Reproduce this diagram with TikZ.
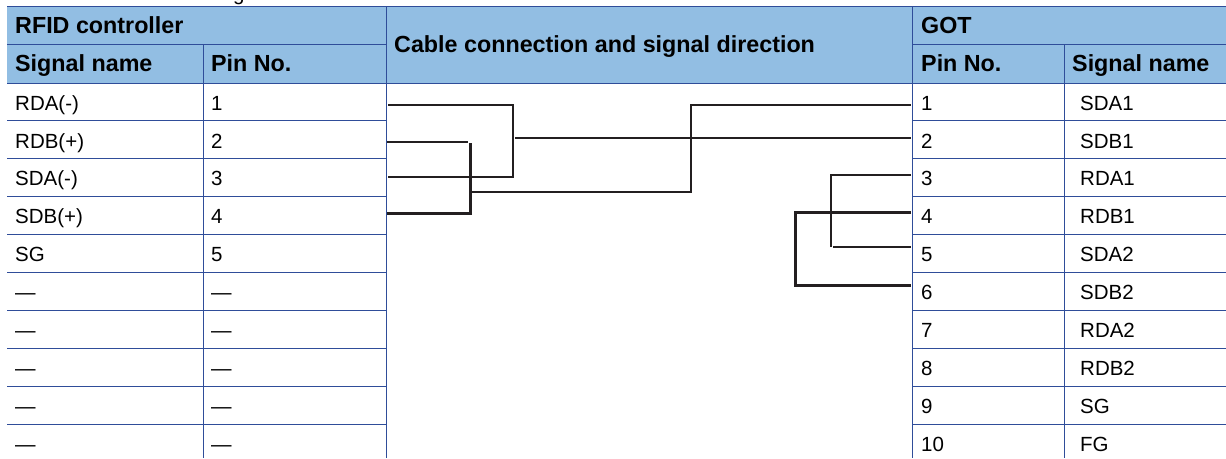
\documentclass[tikz,border=0pt]{standalone}
\usepackage{fontspec}
\setmainfont{Liberation Sans}
\definecolor{rule}{HTML}{2F4D99}
\definecolor{head}{HTML}{92BEE3}
\definecolor{wire}{HTML}{231F20}
\tikzset{
  x=1pt,y=-1pt,
  cell/.style={anchor=base west,inner sep=0pt,font=\fontsize{20.5}{20.5}\selectfont,text=black},
  hcell/.style={anchor=base west,inner sep=0pt,font=\fontsize{23.3}{23.3}\selectfont\bfseries,text=black},
  grid/.style={draw=rule,line width=1.1pt},
  thin wire/.style={draw=wire,line width=1.8pt},
  thick wire/.style={draw=wire,line width=2.6pt}
}
\begin{document}
\begin{tikzpicture}
\useasboundingbox (0,0) rectangle (1226,458);
\fill[head] (7,6.5) rectangle (1226,83.5);
% grid
\draw[grid] (7,6.5) -- (1226,6.5);
\draw[grid] (7,83.5) -- (1226,83.5);
\foreach \yy in {44.5,120.8,158.3,196.3,234.3,272.3,310.3,348.3,386.3,424.3}{
  \draw[grid] (7,\yy) -- (386.5,\yy);
  \draw[grid] (912.5,\yy) -- (1226,\yy);
}
\draw[grid] (386.5,6.5) -- (386.5,458);
\draw[grid] (912.5,6.5) -- (912.5,458);
\draw[grid] (203.5,44.5) -- (203.5,458);
\draw[grid] (1064.5,44.5) -- (1064.5,458);
% clipped line above the table
\begin{scope}
\clip (0,0) rectangle (1226,6);
\node[cell] (caption) at (233,0.7) {g};
\end{scope}
% headers
\node[hcell] (h1) at (15,33.3) {RFID controller};
\node[hcell] (h2) at (15,71.5) {Signal name};
\node[hcell] (h3) at (211,71.5) {Pin No.};
\node[hcell] (h4) at (394,52.3) {Cable connection and signal direction};
\node[hcell] (h5) at (921,33.3) {GOT};
\node[hcell] (h6) at (921,71.5) {Pin No.};
\node[hcell] (h7) at (1072,71.5) {Signal name};
% left rows
\foreach \i/\s/\p/\yy in {a/RDA(-)/1/110,b/RDB(+)/2/148,c/SDA(-)/3/185.7,d/SDB(+)/4/223.7,e/SG/5/261.7,f/—/—/299.7,g/—/—/337.7,h/—/—/375.5,i/—/—/413.5,j/—/—/451}{
  \node[cell] (ls\i) at (15,\yy) {\s};
  \node[cell] (lp\i) at (211,\yy) {\p};
}
% right rows
\foreach \i/\p/\s/\yy in {1/1/SDA1/110,2/2/SDB1/148,3/3/RDA1/185.7,4/4/RDB1/223.7,5/5/SDA2/261.7,6/6/SDB2/299.7,7/7/RDA2/337.7,8/8/RDB2/375.5,9/9/SG/413.5,10/10/FG/451}{
  \node[cell] (rp\i) at (921,\yy) {\p};
  \node[cell] (rs\i) at (1080,\yy) {\s};
}
% wire end points
\foreach \n/\xx/\yy in {La/388/104.7,Lb/387/141.7,Lc/388/177,Ld/387/213.3,
  Ra/911/104.7,Rb/911/137.7,Rc/911/174.7,Rd/911/212.7,Re/911/246.7,Rf/911/285.3}{
  \coordinate (\n) at (\xx,\yy);
}
\coordinate (J1) at (515.3,137.7);
\coordinate (J2) at (470.3,192.3);
\draw[thin wire] (La) -- (513.3,104.7) -- (513.3,177) -- (Lc);
\draw[thin wire] (J1) -- (Rb);
\draw[thin wire] (Lb) -- (468,141.7);
\draw[thick wire] (470.3,143) -- (470.3,213.3) -- (Ld);
\draw[thin wire] (J2) -- (690.7,192.3) -- (690.7,104.7) -- (Ra);
\draw[thin wire] (Rc) -- (831,174.7) -- (831,246.7);
\draw[thin wire] (833,246.7) -- (Re);
\draw[thick wire] (Rd) -- (795.5,212.7) -- (795.5,285.3) -- (Rf);
\end{tikzpicture}
\end{document}
